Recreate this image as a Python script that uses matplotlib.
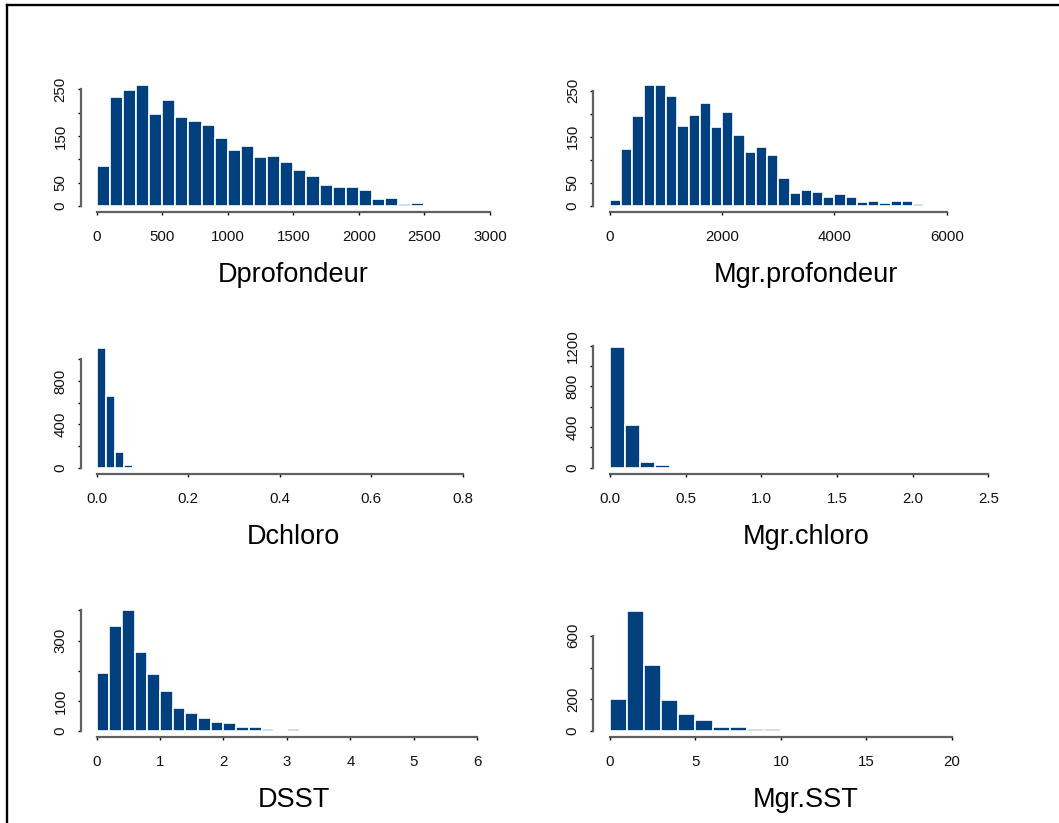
import numpy as np
import matplotlib
matplotlib.use('Agg')
import matplotlib.pyplot as plt
from matplotlib.lines import Line2D

plt.rcParams['font.family'] = ['Liberation Sans', 'DejaVu Sans']

#
# Histogram counts
#
dprof_width = 100
dprof_counts = [86, 234, 249, 259, 197, 226, 191, 181, 174, 145, 121, 129, 106, 107, 94,
                78, 64, 46, 40, 40, 34, 14, 17, 4, 7, 2, 0, 1, 0, 0]

mprof_width = 200
mprof_counts = [12, 123, 194, 262, 262, 238, 173, 197, 224, 171, 204, 154, 118, 127, 111,
                61, 28, 35, 30, 20, 26, 20, 8, 10, 6, 11, 10, 4, 2, 1, 1, 1, 0, 0, 0, 0, 1]

dchl_width = 0.02
dchl_counts = [1108, 662, 142, 28, 12, 5, 3, 2, 1, 2, 1, 1, 0, 1, 0, 1, 0, 0, 1, 0, 0, 0,
               0, 0, 0, 0, 0, 0, 1, 0, 0, 0, 0, 0, 0, 0, 0, 0, 0, 0, 0, 0, 1]

mchl_width = 0.1
mchl_counts = [1183, 423, 59, 23, 5, 3, 1, 2, 1, 1, 0, 0, 0, 1, 0, 0, 0, 0, 0, 0, 0, 0,
               0, 0, 0, 1]

dsst_width = 0.2
dsst_counts = [191, 347, 400, 262, 189, 133, 75, 61, 42, 31, 26, 15, 12, 8, 4, 6, 4, 2, 1,
               1, 0, 0, 0, 0, 1, 0, 0, 1, 0, 1, 1]

msst_width = 1.0
msst_counts = [199, 759, 417, 193, 105, 67, 27, 23, 13, 10, 5, 1, 0, 0, 0, 0, 1, 1, 1, 1,
               1, 1, 1, 1]

titles = ['Dprofondeur', 'Mgr.profondeur', 'Dchloro', 'Mgr.chloro', 'DSST', 'Mgr.SST']

xticks = [[0, 500, 1000, 1500, 2000, 2500, 3000],
          [0, 2000, 4000, 6000],
          [0.0, 0.2, 0.4, 0.6, 0.8],
          [0.0, 0.5, 1.0, 1.5, 2.0, 2.5],
          [0, 1, 2, 3, 4, 5, 6],
          [0, 5, 10, 15, 20]]
xlabels = [['0', '500', '1000', '1500', '2000', '2500', '3000'],
           ['0', '2000', '4000', '6000'],
           ['0.0', '0.2', '0.4', '0.6', '0.8'],
           ['0.0', '0.5', '1.0', '1.5', '2.0', '2.5'],
           ['0', '1', '2', '3', '4', '5', '6'],
           ['0', '5', '10', '15', '20']]
yticks = [[0, 50, 100, 150, 200, 250],
          [0, 50, 100, 150, 200, 250],
          [0, 200, 400, 600, 800, 1000],
          [0, 200, 400, 600, 800, 1000, 1200],
          [0, 100, 200, 300, 400],
          [0, 200, 400, 600]]
ylabels = [['0', '50', '', '150', '', '250'],
           ['0', '50', '', '150', '', '250'],
           ['0', '', '400', '', '800', ''],
           ['0', '', '400', '', '800', '', '1200'],
           ['0', '100', '', '300', ''],
           ['0', '200', '', '600']]

widths = [dprof_width, mprof_width, dchl_width, mchl_width, dsst_width, msst_width]
counts = [dprof_counts, mprof_counts, dchl_counts, mchl_counts, dsst_counts, msst_counts]

# plot regions (pixels) and axis limits, like R's mfrow=c(3,2)
W, H = 1059, 823
col_left = [81, 593.3]
row_top = [80.4, 342.8, 605.5]
pw, ph = 425, 131.3
xlims = [(-120, 3122), (-297.6, 7275), (-0.0343, 0.8947),
         (-0.110, 2.699), (-0.246, 6.454), (-0.98, 23.9)]
ylims = [(-12.2, 269), (-12.4, 272.2), (-58, 1153),
         (-62, 1229), (-18.9, 416.3), (-36, 790.8)]

bar_col = '#00407E'
axis_col = '#606060'

fig = plt.figure(figsize=(W / 100, H / 100), dpi=100)

for i in range(6):
    left = col_left[i % 2]
    top = row_top[i // 2]
    ax = fig.add_axes([left / W, 1 - (top + ph) / H, pw / W, ph / H])
    c = np.array(counts[i])
    edges = np.arange(len(c)) * widths[i]
    ax.bar(edges, c, width=widths[i], align='edge', color=bar_col,
           edgecolor='white', linewidth=1.2)
    ax.set_xlim(*xlims[i])
    ax.set_ylim(*ylims[i])

    for s in ['top', 'right']:
        ax.spines[s].set_visible(False)
    ax.spines['left'].set_bounds(yticks[i][0], yticks[i][-1])
    ax.spines['bottom'].set_bounds(xticks[i][0], xticks[i][-1])
    for s in ['left', 'bottom']:
        ax.spines[s].set_color(axis_col)
        ax.spines[s].set_linewidth(1.6)

    ax.set_xticks(xticks[i])
    ax.set_xticklabels(xlabels[i])
    ax.set_yticks(yticks[i])
    ax.set_yticklabels(ylabels[i], rotation=90, va='center')
    ax.tick_params(axis='x', length=2.2, width=1, pad=11, labelsize=10.8,
                   labelcolor='#111111')
    ax.tick_params(axis='y', length=2.2, width=1, pad=7.5, labelsize=10.8,
                   labelcolor='#111111')

    ax.text(0.5, -70 / ph, titles[i], transform=ax.transAxes, ha='center',
            va='baseline', fontsize=19.5, color='black')

# frame of the original screenshot
fig.add_artist(Line2D([6.5 / W, 6.5 / W], [0, 1 - 5.2 / H], transform=fig.transFigure,
                      color='black', linewidth=1.7))
fig.add_artist(Line2D([6.5 / W, 1], [1 - 5.2 / H, 1 - 5.2 / H], transform=fig.transFigure,
                      color='black', linewidth=1.7))

plt.savefig('out.png', dpi=100)
